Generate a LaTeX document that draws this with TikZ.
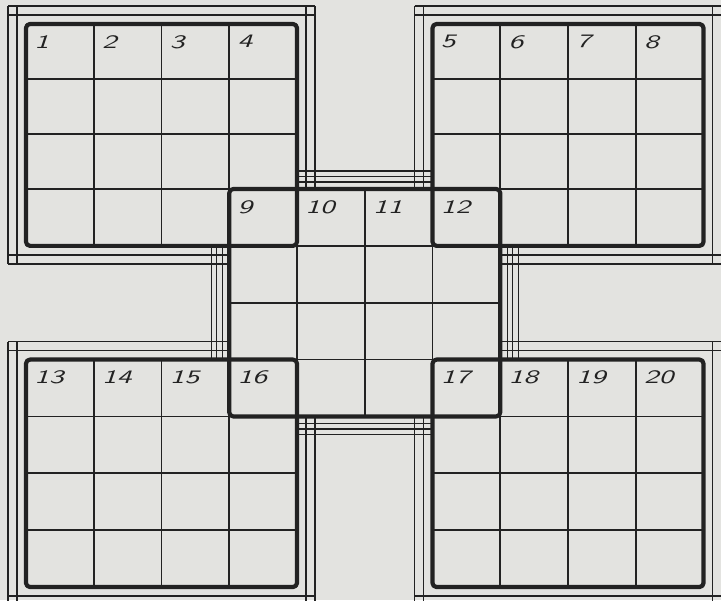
\documentclass[tikz,border=0pt]{standalone}
\usepackage{tikz}
\usepackage{xcolor}
\usepackage{graphicx}
\definecolor{paper}{RGB}{227, 227, 224}
\definecolor{ink}{RGB}{34, 34, 34}

\begin{document}
\begin{tikzpicture}[
  x=0.5pt, y=-0.5pt,
  declare function={
    cx(\k) = 26 + 67.75*\k;
    ry(\k) = (\k < 3.5)*(24 + 55*\k) + (\k > 3.5)*(189 + 56.857*(\k - 3));
  },
  cellline/.style={draw=ink, line width=0.85pt},
  boardline/.style={draw=ink, line width=2.1pt, rounded corners=2pt, line join=round},
  frameline/.style={draw=ink, line width=0.7pt},
  cellnum/.style={font=\sffamily\slshape\fontsize{9.5}{10}\selectfont, text=ink,
    anchor=north west, inner sep=0pt}
]

\useasboundingbox (0,0) rectangle (721,600);
\fill[paper] (0,0) rectangle (721,600);
\clip (0,0) rectangle (721,600);

% Frames round the corner boards
\foreach \d in {9,18} {
  % top left board
  \draw[frameline] ({cx(0)-18},{ry(0)-\d}) -- ({cx(4)+18},{ry(0)-\d});
  \draw[frameline] ({cx(0)-\d},{ry(0)-18}) -- ({cx(0)-\d},{ry(4)+18});
  \draw[frameline] ({cx(4)+\d},{ry(0)-18}) -- ({cx(4)+\d},{ry(3)});
  \draw[frameline] ({cx(0)-18},{ry(4)+\d}) -- ({cx(3)},{ry(4)+\d});
  % top right board
  \draw[frameline] ({cx(6)-18},{ry(0)-\d}) -- ({cx(10)+18},{ry(0)-\d});
  \draw[frameline] ({cx(10)+\d},{ry(0)-18}) -- ({cx(10)+\d},{ry(4)+18});
  \draw[frameline] ({cx(6)-\d},{ry(0)-18}) -- ({cx(6)-\d},{ry(3)});
  \draw[frameline] ({cx(7)},{ry(4)+\d}) -- ({cx(10)+18},{ry(4)+\d});
  % bottom left board
  \draw[frameline] ({cx(0)-18},{ry(10)+\d}) -- ({cx(4)+18},{ry(10)+\d});
  \draw[frameline] ({cx(0)-\d},{ry(6)-18}) -- ({cx(0)-\d},{ry(10)+18});
  \draw[frameline] ({cx(0)-18},{ry(6)-\d}) -- ({cx(3)},{ry(6)-\d});
  \draw[frameline] ({cx(4)+\d},{ry(7)}) -- ({cx(4)+\d},{ry(10)+18});
  % bottom right board
  \draw[frameline] ({cx(6)-18},{ry(10)+\d}) -- ({cx(10)+18},{ry(10)+\d});
  \draw[frameline] ({cx(10)+\d},{ry(6)-18}) -- ({cx(10)+\d},{ry(10)+18});
  \draw[frameline] ({cx(7)},{ry(6)-\d}) -- ({cx(10)+18},{ry(6)-\d});
  \draw[frameline] ({cx(6)-\d},{ry(7)}) -- ({cx(6)-\d},{ry(10)+18});
}

% Bands round the centre board
\foreach \d in {7,12.5,18} {
  \draw[frameline] ({cx(4)},{ry(3)-\d}) -- ({cx(6)},{ry(3)-\d});
  \draw[frameline] ({cx(4)},{ry(7)+\d}) -- ({cx(6)},{ry(7)+\d});
  \draw[frameline] ({cx(3)-\d},{ry(4)}) -- ({cx(3)-\d},{ry(6)});
  \draw[frameline] ({cx(7)+\d},{ry(4)}) -- ({cx(7)+\d},{ry(6)});
}

% Cells
\foreach \c/\r in {0/0, 6/0, 0/6, 6/6, 3/3} {
  \foreach \k in {1,2,3} {
    \draw[cellline] ({cx(\c+\k)},{ry(\r)}) -- ({cx(\c+\k)},{ry(\r+4)});
    \draw[cellline] ({cx(\c)},{ry(\r+\k)}) -- ({cx(\c+4)},{ry(\r+\k)});
  }
}

% Board outlines
\foreach \c/\r in {0/0, 6/0, 0/6, 6/6, 3/3}
  \draw[boardline] ({cx(\c)},{ry(\r)}) rectangle ({cx(\c+4)},{ry(\r+4)});

% Cell numbers
\foreach \lab/\c/\r in {1/0/0, 2/1/0, 3/2/0, 4/3/0, 5/6/0, 6/7/0, 7/8/0, 8/9/0,
    9/3/3, 10/4/3, 11/5/3, 12/6/3, 13/0/6, 14/1/6, 15/2/6, 16/3/6,
    17/6/6, 18/7/6, 19/8/6, 20/9/6}
  \node[cellnum] (n\lab) at ({cx(\c)+8},{ry(\r)+11}) {\scalebox{1.55}[1]{\lab}};

\end{tikzpicture}
\end{document}
